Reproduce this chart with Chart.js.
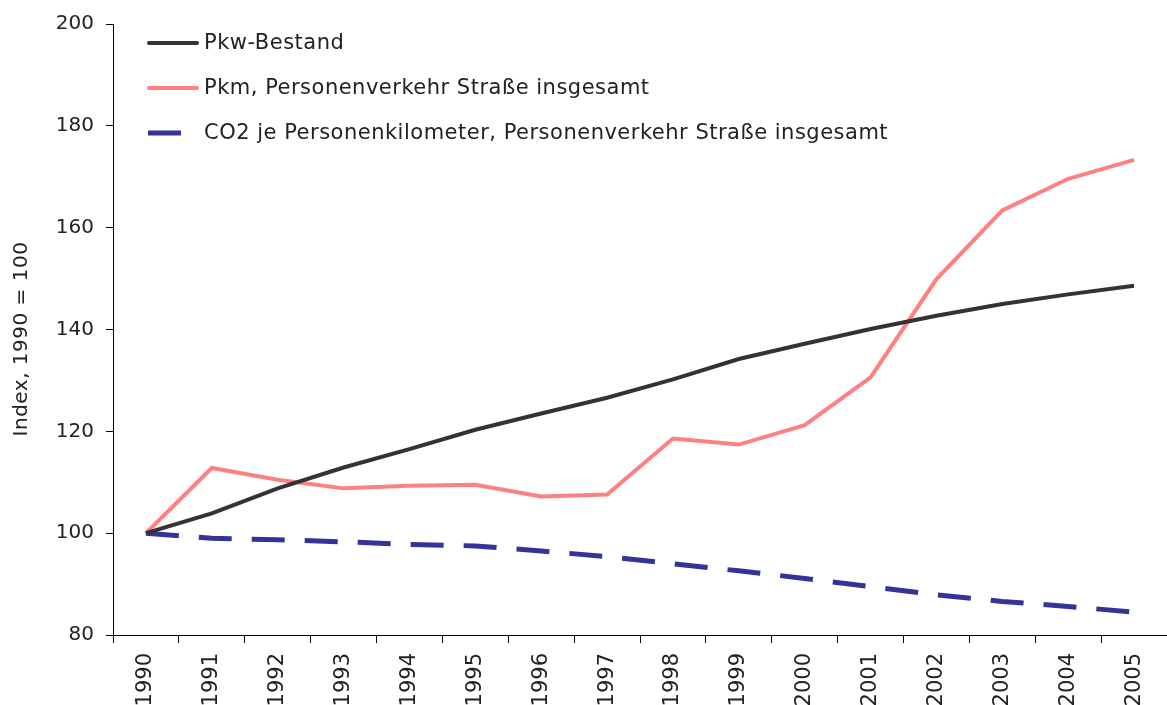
<!DOCTYPE html>
<html lang="de">
<head>
    <meta charset="UTF-8">
    <title>Pkw-Bestand, Pkm und CO2</title>
    <script src="https://cdn.jsdelivr.net/npm/chart.js"></script>
    <style>
        body {
            margin: 0;
            padding: 0;
            background: #fff;
        }
        .chart-box {
            width: 1167px;
            height: 705px;
        }
    </style>
</head>
<body>

<div class="chart-box">
    <canvas id="indexChart"></canvas>
</div>

<script>
    // Jahre (Kategorien)
    const years = ['1990', '1991', '1992', '1993', '1994', '1995', '1996', '1997',
                   '1998', '1999', '2000', '2001', '2002', '2003', '2004', '2005'];

    // Index 1990 = 100
    const pkwBestand = [100, 103.9, 108.8, 112.9, 116.5, 120.3, 123.5, 126.6,
                        130.2, 134.2, 137.2, 140.1, 142.7, 145.0, 146.9, 148.6];
    const pkmStrasse = [100, 112.8, 110.5, 108.8, 109.3, 109.5, 107.2, 107.6,
                        118.6, 117.4, 121.2, 130.6, 149.9, 163.4, 169.6, 173.3];
    const co2JePkm = [100, 99.0, 98.7, 98.3, 97.8, 97.5, 96.5, 95.4,
                      94.0, 92.6, 91.1, 89.5, 87.9, 86.6, 85.6, 84.5];

    const yTicks = [80, 100, 120, 140, 160, 180, 200];
    const yTitle = 'Index, 1990 = 100';

    const fontFamily = '"DejaVu Sans", sans-serif';

    // Legende oben links im Diagramm, untereinander
    const legendPlugin = {
        id: 'innerLegend',
        afterDraw(chart) {
            const ctx = chart.ctx;
            ctx.save();
            ctx.font = '21px ' + fontFamily;
            ctx.letterSpacing = '0.5px';
            ctx.fillStyle = '#222';
            ctx.textBaseline = 'middle';
            chart.data.datasets.forEach((ds, i) => {
                const y = 43 + i * 45;
                ctx.beginPath();
                ctx.strokeStyle = ds.borderColor;
                ctx.lineWidth = ds.borderWidth;
                if (ds.borderDash) {
                    ctx.lineCap = 'butt';
                    ctx.moveTo(148, y);
                    ctx.lineTo(181, y);
                } else {
                    ctx.lineCap = 'round';
                    ctx.moveTo(149, y);
                    ctx.lineTo(197, y);
                }
                ctx.stroke();
                ctx.fillText(ds.label, 204, y + 1);
            });
            ctx.restore();
        }
    };

    // Achsentitel links
    const yTitlePlugin = {
        id: 'yTitle',
        afterDraw(chart) {
            const ctx = chart.ctx;
            ctx.save();
            ctx.font = '20px ' + fontFamily;
            ctx.letterSpacing = '0.5px';
            ctx.fillStyle = '#222';
            ctx.textAlign = 'center';
            ctx.textBaseline = 'middle';
            ctx.translate(22, 339);
            ctx.rotate(-Math.PI / 2);
            ctx.fillText(yTitle, 0, 0);
            ctx.restore();
        }
    };

    const ctx = document.getElementById('indexChart').getContext('2d');
    new Chart(ctx, {
        type: 'line',
        data: {
            labels: years,
            datasets: [
                {
                    label: 'Pkw-Bestand',
                    data: pkwBestand,
                    borderColor: '#333333',
                    borderWidth: 4,
                    pointRadius: 0,
                    tension: 0
                },
                {
                    label: 'Pkm, Personenverkehr Straße insgesamt',
                    data: pkmStrasse,
                    borderColor: '#FF8080',
                    borderWidth: 4,
                    pointRadius: 0,
                    tension: 0
                },
                {
                    label: 'CO2 je Personenkilometer, Personenverkehr Straße insgesamt',
                    data: co2JePkm,
                    borderColor: '#333399',
                    borderWidth: 5,
                    borderDash: [33, 20],
                    borderCapStyle: 'butt',
                    pointRadius: 0,
                    tension: 0
                }
            ]
        },
        options: {
            responsive: true,
            maintainAspectRatio: false,
            animation: false,
            layout: {
                padding: { top: 23, right: 0, left: 0, bottom: 0 }
            },
            plugins: {
                legend: { display: false },
                tooltip: { enabled: false }
            },
            scales: {
                x: {
                    offset: true,
                    afterFit: (scale) => {
                        scale.height = 70;
                        scale.paddingLeft = 0;
                        scale.paddingRight = 0;
                    },
                    grid: {
                        offset: true,
                        drawOnChartArea: false,
                        drawTicks: true,
                        tickLength: 8,
                        color: '#000'
                    },
                    border: { display: true, color: '#000', width: 1 },
                    ticks: {
                        minRotation: 90,
                        maxRotation: 90,
                        padding: 10,
                        color: '#222',
                        font: { family: fontFamily, size: 21 }
                    }
                },
                y: {
                    min: 80,
                    max: 200,
                    afterFit: (scale) => { scale.width = 113; },
                    afterBuildTicks: (scale) => {
                        scale.ticks = yTicks.map(v => ({ value: v }));
                    },
                    grid: {
                        drawOnChartArea: false,
                        drawTicks: true,
                        tickLength: 7,
                        color: '#000'
                    },
                    border: { display: true, color: '#000', width: 1 },
                    ticks: {
                        padding: 12,
                        color: '#222',
                        font: { family: fontFamily, size: 20 }
                    }
                }
            }
        },
        plugins: [legendPlugin, yTitlePlugin]
    });
</script>

</body>
</html>
